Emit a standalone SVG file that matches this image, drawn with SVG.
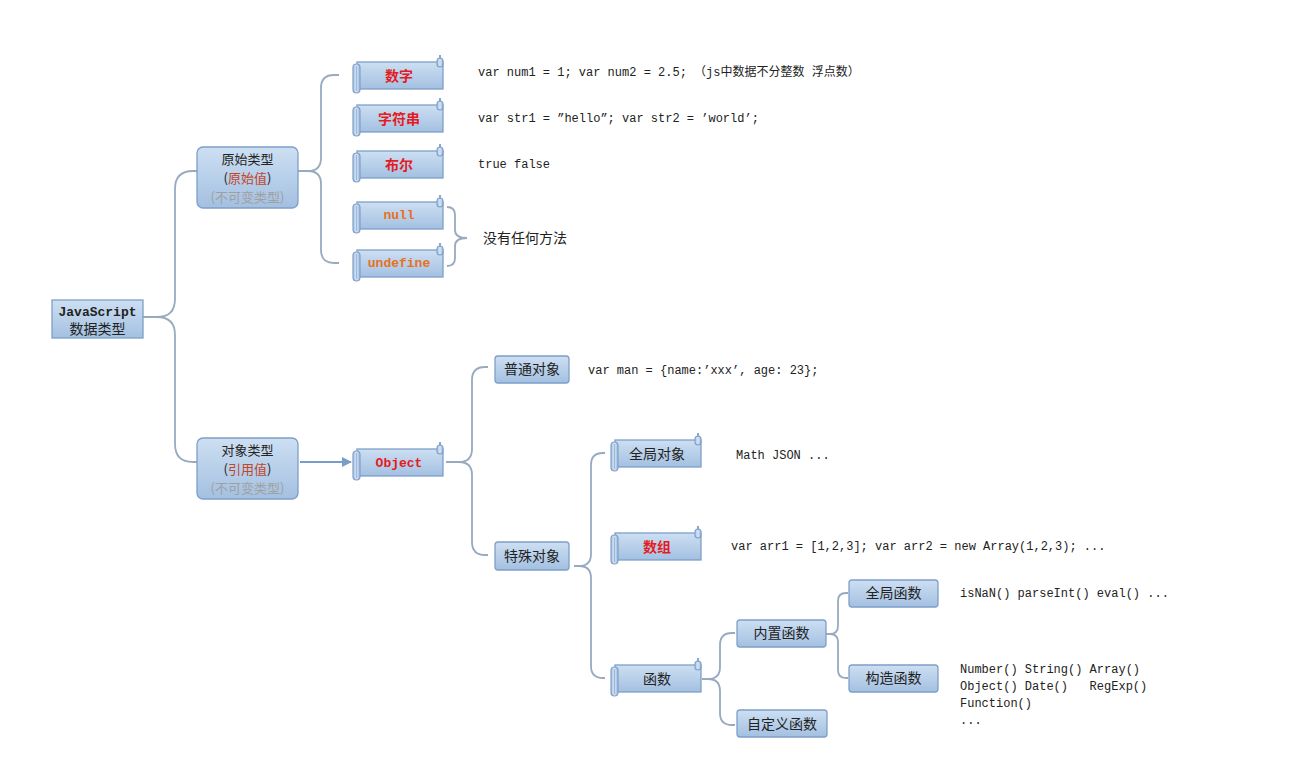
<svg xmlns="http://www.w3.org/2000/svg" xmlns:xlink="http://www.w3.org/1999/xlink" width="1313" height="775" viewBox="0 0 1313 775">
<defs>
<linearGradient id="g" x1="0" y1="0" x2="0" y2="1">
<stop offset="0" stop-color="#cddff2"/>
<stop offset="1" stop-color="#a3c0e1"/>
</linearGradient>
<linearGradient id="gr" x1="0" y1="0" x2="1" y2="0">
<stop offset="0" stop-color="#a9c4e4"/>
<stop offset="0.5" stop-color="#d6e5f5"/>
<stop offset="1" stop-color="#9cb9dc"/>
</linearGradient>
<g id="scroll">
<rect x="4" y="6" width="86" height="27" fill="url(#g)" stroke="#7f9fc8" stroke-width="1.3"/>
<rect x="84" y="2" width="6" height="9" rx="3" fill="url(#gr)" stroke="#7f9fc8" stroke-width="1.1"/>
<rect x="86" y="-1" width="2" height="4" fill="#8aa8cf"/>
<rect x="0" y="8" width="7" height="29" rx="3.5" fill="url(#gr)" stroke="#7f9fc8" stroke-width="1.2"/>
<line x1="3.5" y1="10" x2="3.5" y2="35" stroke="#9cb7da" stroke-width="1"/>
</g>
<marker id="arr" markerWidth="10" markerHeight="10" refX="9" refY="5" orient="auto" markerUnits="userSpaceOnUse">
<path d="M0,0 L10,5 L0,10 Z" fill="#7b9cc6"/>
</marker>
</defs>
<style>
.box{fill:url(#g);stroke:#7f9fc8;stroke-width:1.3}
.c{fill:none;stroke:#98aac0;stroke-width:1.8}
.cn{font-family:"Noto Sans CJK SC","Liberation Sans",sans-serif;font-size:14px;fill:#222;text-anchor:middle}
.cn3{font-family:"Noto Sans CJK SC","Liberation Sans",sans-serif;font-size:13px;fill:#222;text-anchor:middle}
.cnl{font-family:"Noto Sans CJK SC","Liberation Sans",sans-serif;font-size:14px;fill:#222}
.red{font-family:"Noto Sans CJK SC",sans-serif;font-size:14px;font-weight:bold;fill:#e31b23;text-anchor:middle}
.mb{font-family:"Liberation Mono","Noto Sans CJK SC",monospace;font-size:13px;font-weight:bold;text-anchor:middle}
.m{font-family:"Liberation Mono","Noto Sans CJK SC",monospace;font-size:12px;fill:#222;white-space:pre}
.gray{fill:#a0a0a0}
.brn{fill:#c0462c}
</style>
<rect width="1313" height="775" fill="#ffffff"/>

<g id="connectors">
<path class="c" d="M143,317 H157 Q175,317 175,299 V189 Q175,171 193,171 H197"/>
<path class="c" d="M143,317 H157 Q175,317 175,335 V444 Q175,462 193,462 H197"/>
<path class="c" d="M298,171 H308 Q321,171 321,158 V88 Q321,75 334,75 H339"/>
<path class="c" d="M298,171 H308 Q321,171 321,184 V250 Q321,263 334,263 H339"/>
<path class="c" d="M447,207 Q455,207 455,215 V230 Q455,238 467,238 Q455,238 455,246 V258 Q455,266 447,266"/>
<line x1="300" y1="462" x2="351" y2="462" stroke="#7b9cc6" stroke-width="1.8" marker-end="url(#arr)"/>
<path class="c" d="M446,462 H459 Q472,462 472,449 V380 Q472,367 485,367 H488"/>
<path class="c" d="M446,462 H459 Q472,462 472,475 V542 Q472,555 485,555 H488"/>
<path class="c" d="M574,566 H579 Q591,566 591,554 V465 Q591,453 603,453 H605"/>
<path class="c" d="M574,566 H579 Q591,566 591,578 V666 Q591,678 603,678 H605"/>
<path class="c" d="M702,679 H708 Q720,679 720,667 V645 Q720,633 732,633 H735"/>
<path class="c" d="M702,679 H708 Q720,679 720,691 V713 Q720,725 732,725 H735"/>
<path class="c" d="M826,634 H830 Q838,634 838,626 V601 Q838,593 846,593 H848"/>
<path class="c" d="M826,634 H830 Q838,634 838,642 V670 Q838,678 846,678 H848"/>
</g>

<g id="root">
<rect x="52" y="300" width="91" height="38" class="box"/>
<text x="97.5" y="316" class="mb" fill="#222">JavaScript</text>
<text x="97.5" y="334" class="cn">数据类型</text>
</g>

<g id="primitive">
<rect x="197" y="147" width="101" height="61" rx="6" class="box"/>
<text x="247.5" y="164" class="cn3">原始类型</text>
<text x="247.5" y="183" class="cn3">(<tspan class="brn">原始值</tspan>)</text>
<text x="247.5" y="202" class="cn3 gray">(不可变类型)</text>
</g>

<g id="objecttype">
<rect x="197" y="438" width="101" height="61" rx="6" class="box"/>
<text x="247.5" y="455" class="cn3">对象类型</text>
<text x="247.5" y="474" class="cn3">(<tspan class="brn">引用值</tspan>)</text>
<text x="247.5" y="493" class="cn3 gray">(不可变类型)</text>
</g>

<g id="num">
<use xlink:href="#scroll" x="353" y="56"/>
<text x="399" y="81" class="red">数字</text>
<text x="478" y="76" class="m">var num1 = 1; var num2 = 2.5; （js中数据不分整数 浮点数）</text>
</g>
<g id="str">
<use xlink:href="#scroll" x="353" y="99"/>
<text x="399" y="124" class="red">字符串</text>
<text x="478" y="122" class="m">var str1 = ”hello”; var str2 = ’world’;</text>
</g>
<g id="bool">
<use xlink:href="#scroll" x="353" y="145"/>
<text x="399" y="170" class="red">布尔</text>
<text x="478" y="168" class="m">true false</text>
</g>
<g id="null">
<use xlink:href="#scroll" x="353" y="196"/>
<text x="399" y="219" class="mb" fill="#e8701e">null</text>
</g>
<g id="undefine">
<use xlink:href="#scroll" x="353" y="244"/>
<text x="399" y="267" class="mb" fill="#e8701e">undefine</text>
</g>
<text x="483" y="243" class="cnl">没有任何方法</text>

<g id="object">
<use xlink:href="#scroll" x="353" y="443"/>
<text x="399" y="467" class="mb" fill="#e31b23">Object</text>
</g>

<g id="plain">
<rect x="495" y="356" width="74" height="27" rx="3" class="box"/>
<text x="532" y="374" class="cn">普通对象</text>
<text x="588" y="374" class="m">var man = {name:’xxx’, age: 23};</text>
</g>

<g id="special">
<rect x="495" y="542" width="74" height="28" rx="3" class="box"/>
<text x="532" y="561" class="cn">特殊对象</text>
</g>

<g id="globalobj">
<use xlink:href="#scroll" x="611" y="434"/>
<text x="657" y="459" class="cn">全局对象</text>
<text x="736" y="459" class="m">Math JSON ...</text>
</g>
<g id="array">
<use xlink:href="#scroll" x="611" y="527"/>
<text x="657" y="552" class="red">数组</text>
<text x="731" y="550" class="m">var arr1 = [1,2,3]; var arr2 = new Array(1,2,3); ...</text>
</g>
<g id="func">
<use xlink:href="#scroll" x="611" y="659"/>
<text x="657" y="684" class="cn">函数</text>
</g>

<g id="builtin">
<rect x="737" y="620" width="89" height="27" rx="3" class="box"/>
<text x="781.5" y="638" class="cn">内置函数</text>
</g>
<g id="custom">
<rect x="737" y="710" width="90" height="27" rx="3" class="box"/>
<text x="782" y="729" class="cn">自定义函数</text>
</g>
<g id="globalfn">
<rect x="849" y="580" width="89" height="27" rx="3" class="box"/>
<text x="893.5" y="598" class="cn">全局函数</text>
<text x="960" y="597" class="m">isNaN() parseInt() eval() ...</text>
</g>
<g id="ctor">
<rect x="849" y="665" width="89" height="27" rx="3" class="box"/>
<text x="893.5" y="683" class="cn">构造函数</text>
<text x="960" y="673" class="m">Number() String() Array()</text>
<text x="960" y="690" class="m">Object() Date()   RegExp()</text>
<text x="960" y="707" class="m">Function()</text>
<text x="960" y="724" class="m">...</text>
</g>
</svg>
